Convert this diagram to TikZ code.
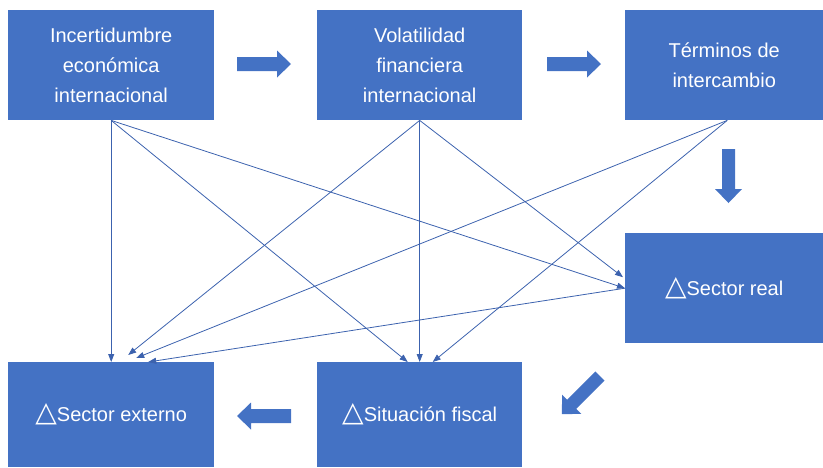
\documentclass[tikz,border=0pt]{standalone}
\usepackage{fontspec}
\setmainfont{Liberation Sans}
\newfontfamily\symfont{DejaVu Sans}
\usetikzlibrary{arrows.meta,calc}
\definecolor{boxblue}{HTML}{4472C4}
\definecolor{linkblue}{HTML}{3C62AE}
\newcommand{\deltatri}{{\symfont\fontsize{28}{30}\selectfont △}}
\begin{document}
\begin{tikzpicture}[x=1pt,y=-1pt,
  box/.style={fill=boxblue, draw=none, text=white, inner sep=0pt, anchor=north west,
    align=center, font=\fontsize{20}{30}\selectfont},
  link/.style={draw=linkblue, line width=0.8pt, -{Triangle[length=8pt,width=6pt]}},
  blockarrow/.style={fill=boxblue}]
\useasboundingbox (0,0) rectangle (823,467);
% boxes
\node[box, minimum width=206pt, minimum height=110pt] (b1) at (8,10) {Incertidumbre\\económica\\internacional};
\node[box, minimum width=205pt, minimum height=110pt] (b2) at (317,10) {Volatilidad\\financiera\\internacional};
\node[box, minimum width=198pt, minimum height=110pt] (b3) at (625,10) {Términos de\\intercambio};
\node[box, minimum width=198pt, minimum height=110pt] (b4) at (625,233) {\deltatri Sector real};
\node[box, minimum width=206pt, minimum height=105pt] (b5) at (8,362) {\deltatri Sector externo};
\node[box, minimum width=205pt, minimum height=105pt] (b6) at (317,362) {\deltatri Situación fiscal};
% block arrows
\fill[blockarrow, shift={(237,64)}] (0,-7) -- (40,-7) -- (40,-13.5) -- (54,0) -- (40,13.5) -- (40,7) -- (0,7) -- cycle;
\fill[blockarrow, shift={(547,64)}] (0,-7) -- (40,-7) -- (40,-13.5) -- (54,0) -- (40,13.5) -- (40,7) -- (0,7) -- cycle;
\fill[blockarrow, shift={(728.5,149)}, rotate=-90] (0,-6.5) -- (40,-6.5) -- (40,-13.5) -- (54,0) -- (40,13.5) -- (40,6.5) -- (0,6.5) -- cycle;
\fill[blockarrow, shift={(600,376)}, rotate=-135] (0,-6.5) -- (40,-6.5) -- (40,-13.5) -- (54,0) -- (40,13.5) -- (40,6.5) -- (0,6.5) -- cycle;
\fill[blockarrow, shift={(291,416)}, rotate=180] (0,-7) -- (40,-7) -- (40,-13.5) -- (54,0) -- (40,13.5) -- (40,7) -- (0,7) -- cycle;
% connector endpoints
\coordinate (b3s) at ($(b3.south)+(3,0)$);
\coordinate (e2) at ($(b5.north)+(17,-7)$);
\coordinate (e3) at ($(b5.north)+(25,-4)$);
\coordinate (e4) at ($(b5.north)+(37,0)$);
\coordinate (f1) at ($(b6.north)+(-12,0)$);
\coordinate (f3) at ($(b6.north)+(13,0)$);
\coordinate (r2) at ($(b4.west)+(-2,-11)$);
% links
\draw[link] (b1.south) -- (b5.north);
\draw[link] (b1.south) -- (f1);
\draw[link] (b1.south) -- (b4.west);
\draw[link] (b2.south) -- (e2);
\draw[link] (b2.south) -- (b6.north);
\draw[link] (b2.south) -- (r2);
\draw[link] (b3s) -- (e3);
\draw[link] (b3s) -- (f3);
\draw[link] (b4.west) -- (e4);
\end{tikzpicture}
\end{document}
